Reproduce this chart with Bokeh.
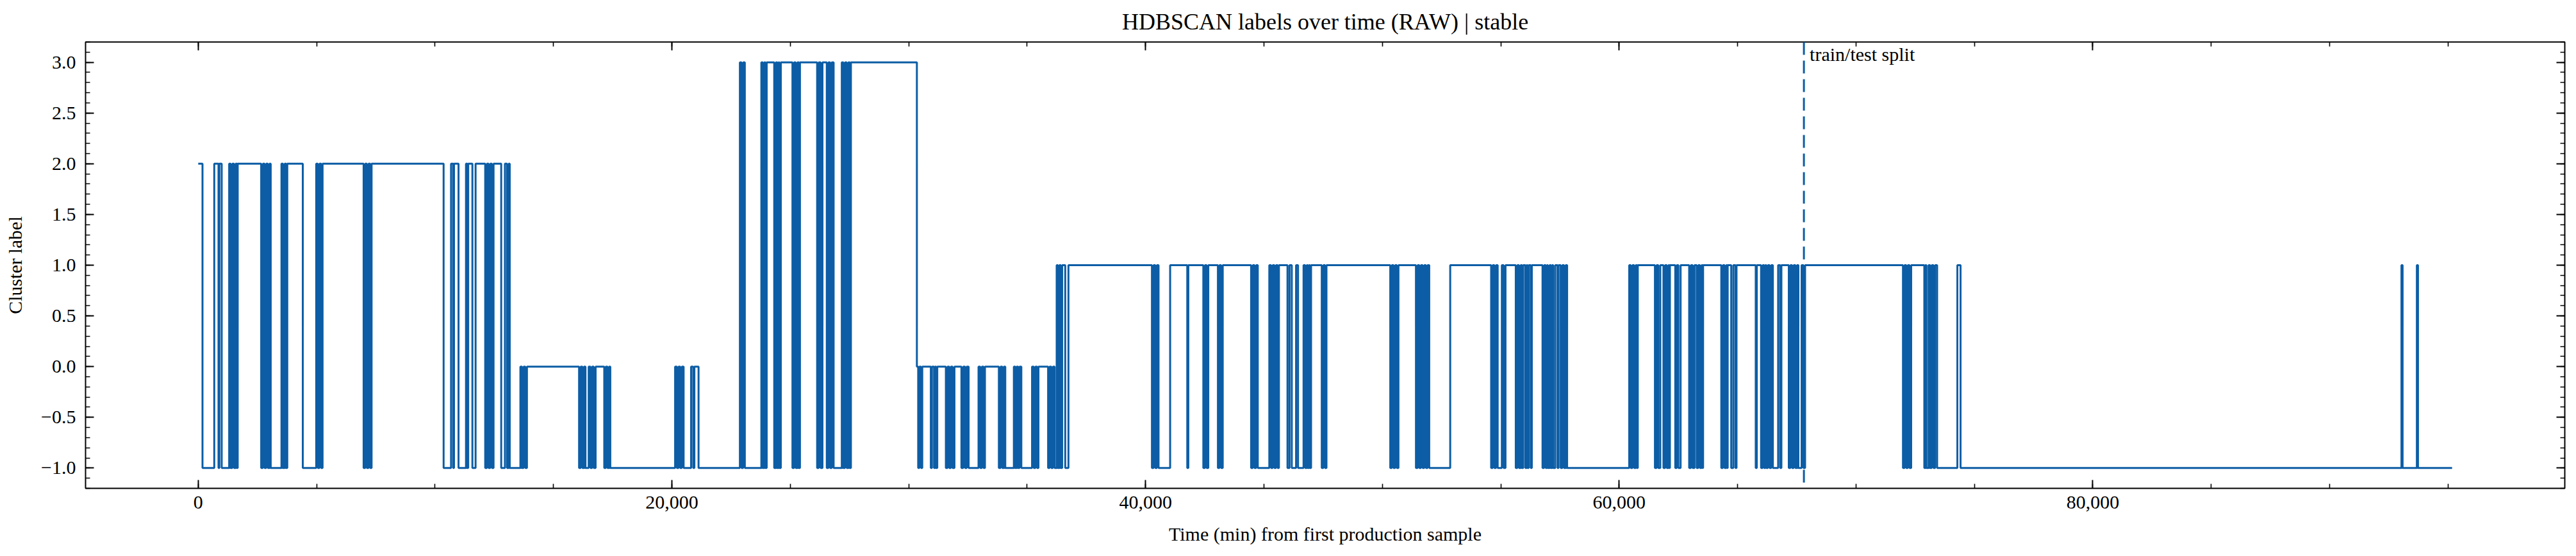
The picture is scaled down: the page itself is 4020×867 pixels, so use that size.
from bokeh.plotting import figure
from bokeh.models import (Range1d, LinearAxis, SingleIntervalTicker, NumeralTickFormatter,
                          CustomJSTickFormatter, Span, Label)
from bokeh.embed import file_html
from bokeh.resources import INLINE

TITLE = "HDBSCAN labels over time (RAW) | stable"
X_LABEL = "Time (min) from first production sample"
Y_LABEL = "Cluster label"
SPLIT_LABEL = "train/test split"

split_time = 67800
t_end = 95170

# (time in min, cluster label holding from that time)
changes_a = [
    (0, 2), (180, -1), (676, 2), (856, -1), (892, 2), (991, -1),
    (1306, 2), (1370, -1), (1440, 2), (1510, -1), (1580, 2), (1640, -1), (1667, 2),
    (2658, -1), (2730, 2), (2800, -1), (2870, 2), (2940, -1), (3010, 2), (3060, -1),
    (3514, 2), (3580, -1), (3650, 2), (3710, -1), (3760, 2), (4415, -1),
    (4982, 2), (5050, -1), (5120, 2), (5190, -1), (5250, 2),
    (6983, -1), (7050, 2), (7120, -1), (7190, 2), (7260, -1), (7320, 2),
    (10361, -1), (10675, 2), (10765, -1), (10800, 2), (10991, -1),
    (11306, 2), (11360, -1), (11400, 2), (11576, -1), (11711, 2),
    (12117, -1), (12190, 2), (12260, -1), (12330, 2), (12400, -1), (12470, 2),
    (12793, -1), (12950, 2), (13040, -1), (13108, 2), (13153, -1),
    (13603, 0), (13670, -1), (13740, 0), (13810, -1), (13880, 0),
    (16081, -1), (16150, 0), (16220, -1), (16290, 0), (16352, -1),
    (16487, 0), (16560, -1), (16630, 0), (16700, -1), (16780, 0),
    (17144, -1), (17210, 0), (17280, -1), (17350, 0), (17400, -1),
    (20136, 0), (20210, -1), (20280, 0), (20350, -1), (20420, 0), (20496, -1),
    (20811, 0), (20901, -1), (20950, 0), (21126, -1),
]
changes_b = [
    (22871, 3), (22940, -1), (23010, 3), (23080, -1),
    (23777, 3), (23840, -1), (23900, 3), (23950, -1), (24003, 3),
    (24321, -1), (24390, 3), (24450, -1), (24502, 3), (24540, -1), (24600, 3),
    (25091, -1), (25160, 3), (25230, -1), (25300, 3), (25360, -1), (25408, 3),
    (26133, -1), (26200, 3), (26280, -1), (26359, 3),
    (26540, -1), (26610, 3), (26680, -1), (26750, 3), (26830, -1),
    (27174, 3), (27240, -1), (27310, 3), (27380, -1), (27450, 3), (27510, -1), (27560, 3),
    (30345, 0), (30400, -1), (30450, 0), (30520, -1), (30572, 0),
    (30934, -1), (30980, 0), (31070, -1), (31110, 0), (31160, -1), (31206, 0),
    (31569, -1), (31640, 0), (31710, -1), (31780, 0), (31850, -1), (31931, 0),
    (32225, -1), (32300, 0), (32380, -1), (32450, 0), (32530, -1),
    (32948, 0), (33020, -1), (33090, 0), (33160, -1), (33219, 0),
    (33807, -1), (33880, 0), (33950, -1), (34020, 0), (34078, -1),
    (34440, 0), (34500, -1), (34560, 0), (34620, -1), (34680, 0), (34756, -1),
    (35208, 0), (35280, -1), (35350, 0), (35420, -1), (35479, 0),
    (35886, -1), (35950, 0), (36020, -1), (36090, 0), (36160, -1),
]
changes_c = [
    (36248, 1), (36300, -1), (36360, 1), (36420, -1), (36480, 1), (36609, -1), (36745, 1),
    (40270, -1), (40340, 1), (40410, -1), (40480, 1), (40550, -1), (41039, 1),
    (41762, -1), (41807, 1), (42440, -1), (42510, 1), (42580, -1), (42650, 1),
    (43056, -1), (43120, 1), (43190, -1), (43260, 1),
    (44458, -1), (44530, 1), (44600, -1), (44670, 1), (44740, -1),
    (45226, 1), (45300, -1), (45370, 1), (45440, -1), (45510, 1), (45580, -1), (45633, 1),
    (45994, -1), (46080, 1), (46175, -1), (46356, 1), (46440, -1), (46672, 1),
    (46740, -1), (46808, 1), (46853, -1), (46900, 1), (46944, -1), (46990, 1),
    (47441, -1), (47510, 1), (47580, -1), (47640, 1),
    (50334, -1), (50400, 1), (50470, -1), (50540, 1), (50610, -1), (50680, 1),
    (51418, -1), (51490, 1), (51560, -1), (51630, 1), (51700, -1), (51770, 1),
    (51840, -1), (51910, 1), (51980, -1), (52865, 1),
    (54593, -1), (54660, 1), (54730, -1), (54800, 1), (54870, -1),
    (55045, 1), (55120, -1), (55200, 1),
    (55633, -1), (55700, 1), (55770, -1), (55840, 1), (55900, -1), (55949, 1),
    (56040, -1), (56090, 1), (56130, -1), (56180, 1), (56266, -1), (56311, 1),
    (56763, -1), (56830, 1), (56898, -1), (56950, 1), (56989, -1), (57060, 1),
    (57120, -1), (57170, 1), (57215, -1), (57300, 1), (57396, -1), (57441, 1),
    (57531, -1), (57600, 1), (57670, -1), (57740, 1), (57802, -1),
]
changes_d = [
    (60424, 1), (60490, -1), (60560, 1), (60630, -1), (60700, 1), (60750, -1), (60786, 1),
    (61509, -1), (61580, 1), (61650, -1), (61735, 1),
    (61870, -1), (61940, 1), (62010, -1), (62080, 1), (62110, -1), (62142, 1),
    (62368, -1), (62430, 1), (62500, -1), (62594, 1),
    (62955, -1), (63030, 1), (63100, -1), (63181, 1),
    (63272, -1), (63340, 1), (63410, -1), (63480, 1), (63520, -1), (63543, 1),
    (64311, -1), (64380, 1), (64450, -1), (64520, 1), (64560, -1), (64582, 1),
    (64730, -1), (64820, 1), (64910, -1), (64955, 1),
    (65766, -1), (65811, 1), (65991, -1), (66060, 1), (66120, -1), (66171, 1),
    (66216, -1), (66280, 1), (66350, -1), (66420, 1), (66490, -1),
    (66712, 1), (66800, -1), (66850, 1),
    (67162, -1), (67230, 1), (67300, -1), (67370, 1), (67440, -1), (67510, 1), (67568, -1),
    (67703, 1), (67780, -1), (67850, 1),
    (71983, -1), (72050, 1), (72120, -1), (72190, 1), (72260, -1), (72330, 1),
    (72884, -1), (72930, 1), (72974, -1),
    (73064, 1), (73130, -1), (73200, 1), (73270, -1), (73340, 1), (73425, -1),
    (74280, 1), (74415, -1),
    (93032, 1), (93080, -1), (93682, 1), (93730, -1),
]

FONT = "Liberation Serif"
BLUE = "#0C5DA5"

changes = changes_a + changes_b + changes_c + changes_d
change_t = [t for t, _ in changes]
change_label = [c for _, c in changes]
xs = change_t + [t_end]
ys = change_label + [change_label[-1]]

x_span = t_end - change_t[0]
x0, x1 = change_t[0] - 0.05 * x_span, t_end + 0.05 * x_span
ymin, ymax = min(change_label), max(change_label)
dy = ymax - ymin
y0, y1 = ymin - 0.05 * dy, ymax + 0.05 * dy

p = figure(width=4004, height=851, x_range=Range1d(x0, x1), y_range=Range1d(y0, y1),
           output_backend="svg", toolbar_location=None, title=TITLE,
           x_axis_type=None, y_axis_type=None,
           min_border_left=133, min_border_right=2, min_border_top=65, min_border_bottom=86)

p.outline_line_color = "black"
p.outline_line_width = 2
p.outline_line_alpha = 1.0
p.background_fill_color = "white"
p.border_fill_color = "white"

p.title.text_font = FONT
p.title.text_font_size = "36px"
p.title.text_font_style = "normal"
p.title.text_color = "black"
p.title.align = "center"
p.title.standoff = 23


def style_axis(ax, show_labels):
    ax.axis_line_color = None
    ax.major_tick_in = 13
    ax.major_tick_out = 0
    ax.minor_tick_in = 7
    ax.minor_tick_out = 0
    ax.major_tick_line_color = "black"
    ax.minor_tick_line_color = "black"
    ax.major_tick_line_width = 2
    ax.minor_tick_line_width = 1.6
    ax.major_label_text_font = FONT
    ax.major_label_text_font_size = "30px"
    ax.major_label_text_color = "black"
    ax.axis_label_text_font = FONT
    ax.axis_label_text_font_size = "30px"
    ax.axis_label_text_font_style = "normal"
    ax.axis_label_text_color = "black"
    if not show_labels:
        ax.formatter = CustomJSTickFormatter(code="return '';")
        ax.major_label_standoff = 0


def x_ticker():
    return SingleIntervalTicker(interval=20000, num_minor_ticks=4)


def y_ticker():
    return SingleIntervalTicker(interval=0.5, num_minor_ticks=5)


xb = LinearAxis(ticker=x_ticker(), formatter=NumeralTickFormatter(format="0,0"), axis_label=X_LABEL)
style_axis(xb, True)
xb.major_label_standoff = 12
xb.axis_label_standoff = 20
p.add_layout(xb, "below")

xt = LinearAxis(ticker=x_ticker())
style_axis(xt, False)
p.add_layout(xt, "above")

yl = LinearAxis(ticker=y_ticker(),
                formatter=CustomJSTickFormatter(code="return tick.toFixed(1).replace('-', '\\u2212');"),
                axis_label=Y_LABEL)
style_axis(yl, True)
yl.major_label_standoff = 15
yl.axis_label_standoff = 21
p.add_layout(yl, "left")

yr = LinearAxis(ticker=y_ticker())
style_axis(yr, False)
p.add_layout(yr, "right")

p.step(xs, ys, mode="after", line_color=BLUE, line_width=3)

p.add_layout(Span(location=split_time, dimension="height", line_color=BLUE,
                  line_dash="20 9", line_width=3))
p.add_layout(Label(x=split_time, y=y1, text=SPLIT_LABEL, x_offset=9, y_offset=-2,
                   text_align="left", text_baseline="top", text_font=FONT,
                   text_font_size="30px", text_color="black"))

open("out.html", "w").write(file_html(p, INLINE))
